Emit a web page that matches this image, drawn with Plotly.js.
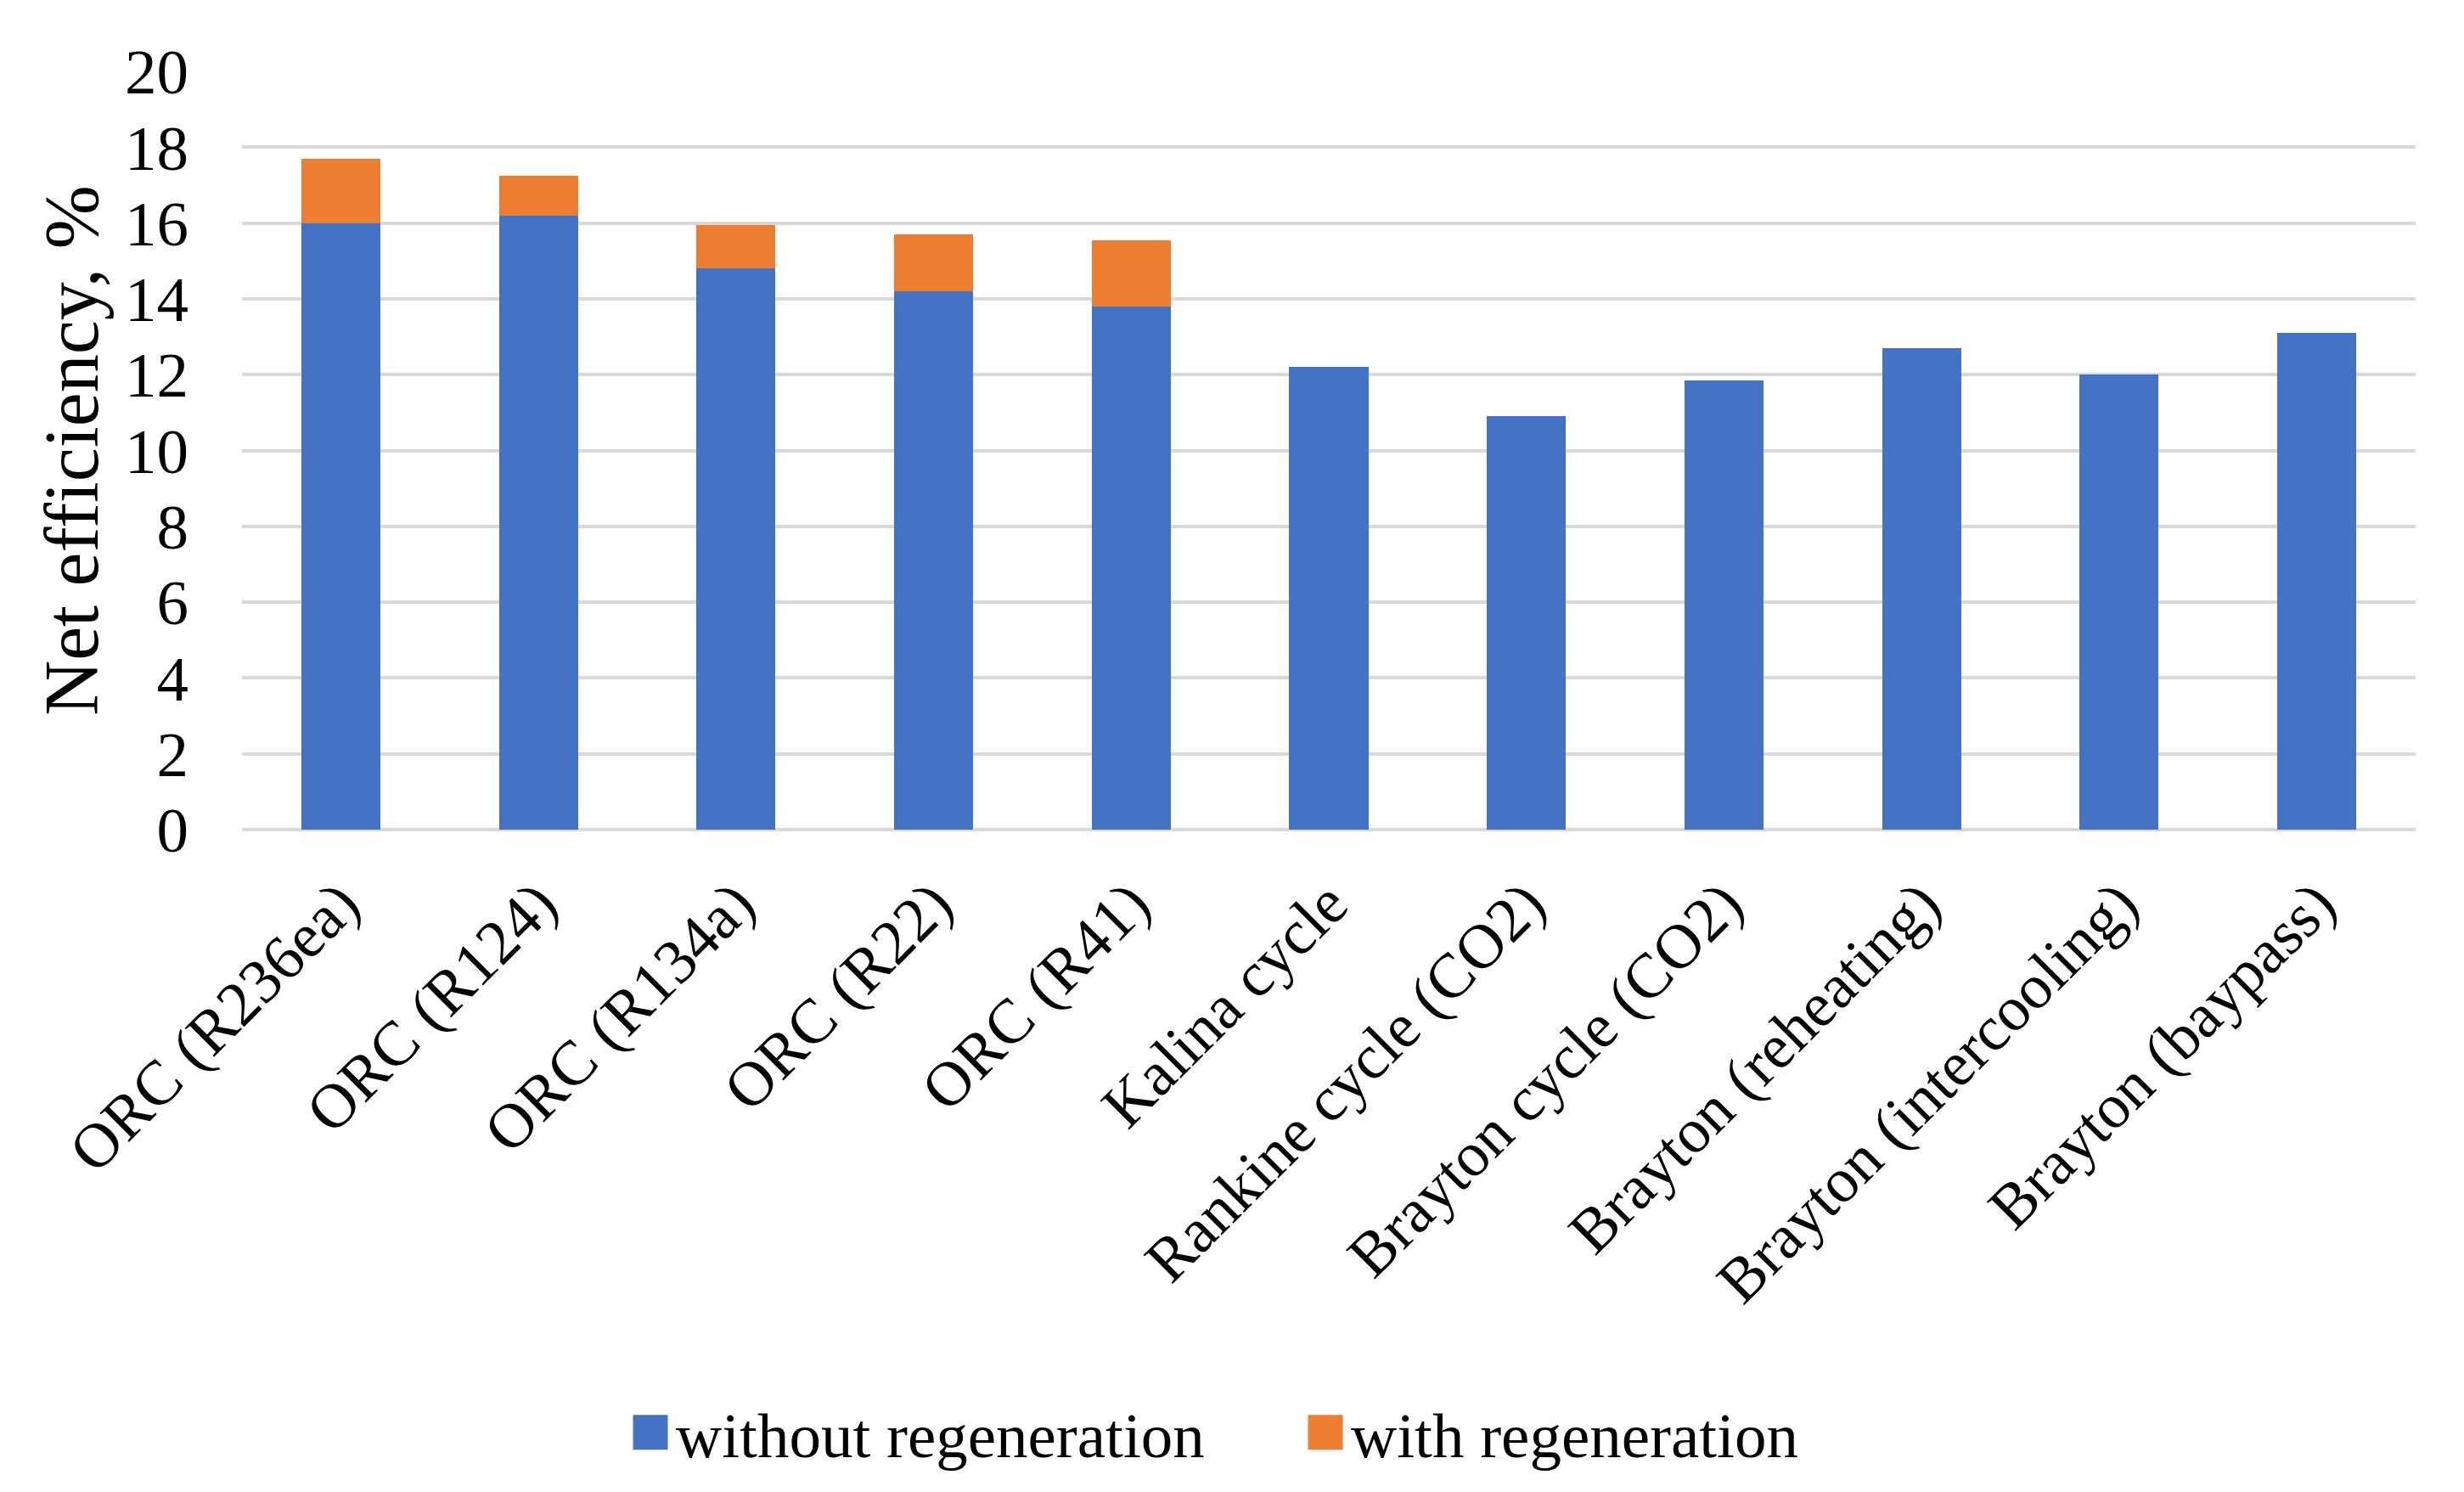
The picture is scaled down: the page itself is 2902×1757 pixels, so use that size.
<!DOCTYPE html>
<html>
<head>
<meta charset="utf-8">
<script src="https://cdn.plot.ly/plotly-3.0.1.min.js"></script>
<style>html,body{margin:0;padding:0;background:#fff;}#chart{width:2902px;height:1757px;}</style>
</head>
<body>
<div id="chart"></div>
<script>
const categories = ["ORC (R236ea)", "ORC (R124)", "ORC (R134a)", "ORC (R22)", "ORC (R41)", "Kalina cycle", "Rankine cycle (CO2)", "Brayton cycle (CO2)", "Brayton (reheating)", "Brayton (intercooling)", "Brayton (baypass)"];
const withoutRegeneration = [16.0, 16.2, 14.8, 14.2, 13.8, 12.2, 10.9, 11.85, 12.7, 12.0, 13.1];
const withRegenerationGain = [1.7, 1.05, 1.15, 1.5, 1.75, null, null, null, null, null, null];
const yTicks = [0, 2, 4, 6, 8, 10, 12, 14, 16, 18, 20];

const font = "Liberation Serif, Times New Roman, serif";
const colors = ["#4472C4", "#ED7D31"];

const data = [
  {type: "bar", name: "without regeneration", x: categories, y: withoutRegeneration, marker: {color: colors[0]}, hoverinfo: "x+y"},
  {type: "bar", name: "with regeneration", x: categories, y: withRegenerationGain, marker: {color: colors[1]}, hoverinfo: "x+y"}
];

const layout = {
  width: 2902, height: 1757,
  paper_bgcolor: "#fff", plot_bgcolor: "#fff",
  barmode: "stack", bargap: 0.6,
  margin: {l: 285, r: 57, t: 84, b: 780, autoexpand: false},
  font: {family: font, size: 75, color: "#000"},
  xaxis: {
    type: "category", tickangle: -45, showgrid: false, showline: false, zeroline: false,
    ticks: "", ticklabelstandoff: 28, tickfont: {family: font, size: 74, color: "#000"}, automargin: false
  },
  yaxis: {
    range: [0, 20], tickvals: yTicks, ticktext: yTicks.map(String),
    showgrid: true, gridcolor: "#d9d9d9", gridwidth: 4,
    zeroline: true, zerolinecolor: "#d9d9d9", zerolinewidth: 4,
    showline: false, ticks: "", ticklabelstandoff: 62,
    tickfont: {family: font, size: 75, color: "#000"},
    title: {text: "Net efficiency, %", font: {family: font, size: 90, color: "#000"}, standoff: 1},
    automargin: false
  },
  legend: {
    orientation: "h", x: 0.184, xanchor: "left", y: -0.795, yanchor: "middle",
    font: {family: font, size: 75, color: "#000"}, traceorder: "normal", itemwidth: 30,
    entrywidth: 750
  },
  showlegend: true
};

function enlargeSwatches(gd) {
  gd.querySelectorAll(".legend [clip-path]").forEach(function (el) { el.removeAttribute("clip-path"); });
  gd.querySelectorAll(".legend .traces").forEach(function (tr, i) {
    tr.querySelectorAll(".legendpoints path").forEach(function (p) {
      p.setAttribute("d", "M20.5,20.5H-20.5V-20.5H20.5Z");
      p.setAttribute("transform", "translate(10,0)");
      p.style.strokeWidth = "0";
      p.style.fill = colors[i];
      p.style.fillOpacity = "1";
    });
  });
}

Plotly.newPlot("chart", data, layout, {displayModeBar: false, staticPlot: true}).then(function (gd) {
  enlargeSwatches(gd);
  setTimeout(function () { enlargeSwatches(gd); }, 50);
});
</script>
</body>
</html>
